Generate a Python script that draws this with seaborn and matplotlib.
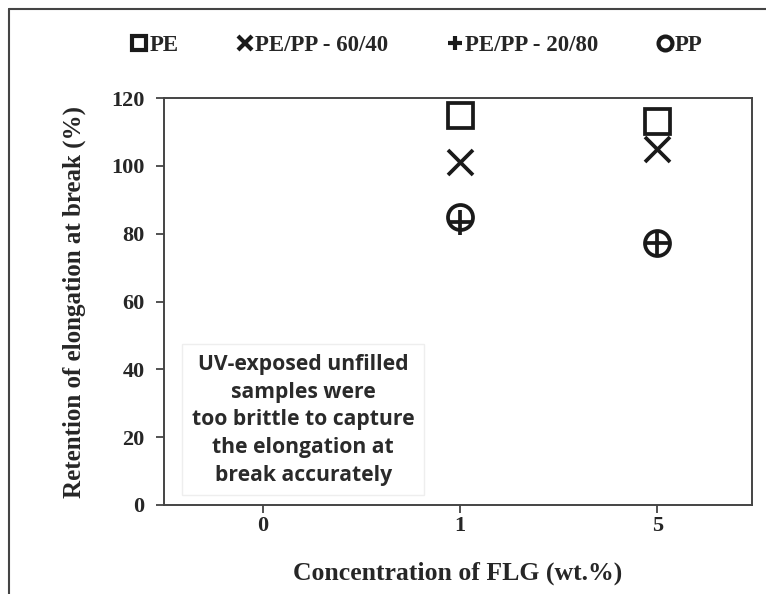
import matplotlib
matplotlib.use("Agg")
import matplotlib.pyplot as plt
from matplotlib.lines import Line2D
import seaborn as sns
import pandas as pd

# ---- data ----
categories = ["0", "1", "5"]
series = ["PE", "PE/PP - 60/40", "PE/PP - 20/80", "PP"]
conc_pe = ["1", "5"]
val_pe = [115.0, 113.3]
conc_6040 = ["1", "5"]
val_6040 = [101.0, 105.0]
conc_2080 = ["1", "5"]
val_2080 = [83.5, 77.2]
conc_pp = ["1", "5"]
val_pp = [85.0, 77.2]
yticks = [0, 20, 40, 60, 80, 100, 120]
note = ("UV-exposed unfilled\nsamples were\ntoo brittle to capture\n"
        "the elongation at\nbreak accurately")

df = pd.concat([
    pd.DataFrame({"conc": conc_pe, "val": val_pe, "series": series[0]}),
    pd.DataFrame({"conc": conc_6040, "val": val_6040, "series": series[1]}),
    pd.DataFrame({"conc": conc_2080, "val": val_2080, "series": series[2]}),
    pd.DataFrame({"conc": conc_pp, "val": val_pp, "series": series[3]}),
], ignore_index=True)

sns.set_theme(style="white")
plt.rcParams["font.family"] = ["Liberation Serif", "DejaVu Serif"]

fig = plt.figure(figsize=(7.66, 5.94), dpi=100)
ax = fig.add_axes([164 / 766, 1 - 505 / 594, (752 - 164) / 766, (505 - 98) / 594])

markers = ["s", "x", "+", "o"]
sns.pointplot(data=df, x="conc", y="val", hue="series", order=categories,
              hue_order=series, markers=markers, linestyles="none",
              palette=["black"] * 4, errorbar=None, ax=ax, legend=False)

for line, m in zip(ax.lines, markers):
    line.set_markersize(18)
    line.set_markeredgewidth(2.7)
    line.set_markeredgecolor("#1a1a1a")
    if m in ("s", "o"):
        line.set_markerfacecolor("none")
    line.set_zorder(5)

ax.set_xlim(-0.503, 2.48)
ax.set_ylim(0, 120)
ax.set_yticks(yticks)
ax.set_xlabel("Concentration of FLG (wt.%)", fontsize=18.5, fontweight="bold",
              labelpad=18)
ax.set_ylabel("Retention of elongation at break (%)", fontsize=18,
              fontweight="bold", labelpad=18)
for lab in ax.get_xticklabels() + ax.get_yticklabels():
    lab.set_fontweight("bold")
    lab.set_fontsize(16)
ax.tick_params(axis="both", direction="out", length=6, width=1.3,
               color="#444444", bottom=True, left=True)
ax.tick_params(axis="x", pad=2)
ax.tick_params(axis="y", pad=8)
for sp in ax.spines.values():
    sp.set_color("#444444")
    sp.set_linewidth(1.4)

ax.text(0.203, 25.1, note, ha="center", va="center", fontsize=15.2,
        fontweight="bold", family=["Open Sans", "DejaVu Sans"], color="#2a2a2a",
        linespacing=1.42,
        bbox=dict(boxstyle="square,pad=0.45", facecolor="white",
                  edgecolor="#eeeeee", linewidth=1.0))

handles = [Line2D([], [], linestyle="none", marker=m, color="#1a1a1a",
                  markerfacecolor="none" if m in ("s", "o") else "#1a1a1a",
                  markersize=10, markeredgewidth=3.0) for m in markers]
fig.legend(handles, series, loc="center", bbox_to_anchor=(0.545, 1 - 45 / 594),
           ncol=4, frameon=False, handlelength=0.6, handletextpad=0.15,
           columnspacing=2.6, prop=dict(weight="bold", size=16.5))

# outer frame (left and top edges)
fig.add_artist(Line2D([9 / 766, 9 / 766], [0, 1 - 9 / 594],
                      transform=fig.transFigure, color="#444444", lw=1.5))
fig.add_artist(Line2D([9 / 766, 1], [1 - 9 / 594, 1 - 9 / 594],
                      transform=fig.transFigure, color="#444444", lw=1.5))

fig.savefig("out.png", dpi=100)
